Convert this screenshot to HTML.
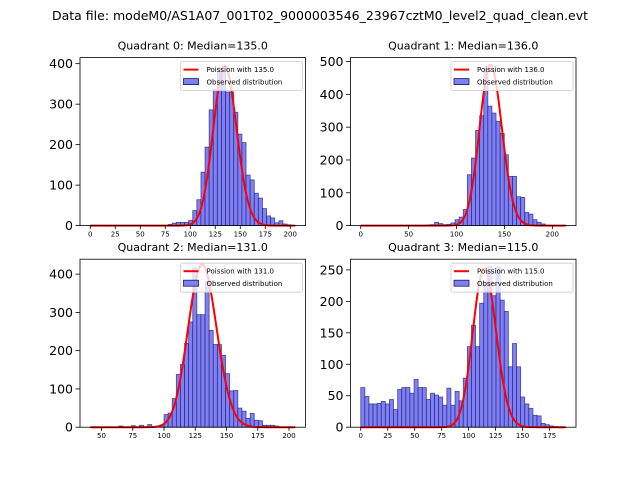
<!DOCTYPE html>
<html><head><meta charset="utf-8"><style>
body{margin:0;background:#fff;}
svg{display:block;font-family:"DejaVu Sans","Liberation Sans",sans-serif;}
</style></head><body>
<svg id="fig" width="640" height="480" viewBox="0 0 640 480">
<rect width="640" height="480" fill="#fff"/>
<text x="320" y="20" text-anchor="middle" font-size="12.5" textLength="536" lengthAdjust="spacingAndGlyphs">Data file: modeM0/AS1A07_001T02_9000003546_23967cztM0_level2_quad_clean.evt</text>
</svg>
<script>
// Panel data (bins: start value, bin width, counts)
const titles = ["Quadrant 0: Median=135.0","Quadrant 1: Median=136.0","Quadrant 2: Median=131.0","Quadrant 3: Median=115.0"];
const lambdas = [135, 136, 131, 115];
const curvePeaks = [395, 490, 425, 252];
const dataMin = [0, 0, 41, 0];
const dataMax = [205, 214, 205, 190];
const xTicks0 = [0,25,50,75,100,125,150,175,200];
const xTicks1 = [0,50,100,150,200];
const xTicks2 = [50,75,100,125,150,175,200];
const xTicks3 = [0,25,50,75,100,125,150,175];
const yTicks0 = [0,100,200,300,400];
const yTicks1 = [0,100,200,300,400,500];
const yTicks2 = [0,100,200,300,400];
const yTicks3 = [0,50,100,150,200,250];
const yMax = [415, 512, 439, 267];
const counts0 = [0,0,0,0,0,0,0,0,0,0,0,0,0,0,0,0,0,0,0,3,6,8,8,8,13,37,64,132,194,286,336,390,380,330,330,280,226,205,125,113,80,68,42,24,19,7,12,4,2,0];
const counts1 = [0,0,0,0,0,0,0,0,0,0,0,0,0,0,0,0,2,3,10,6,3,4,8,18,26,49,155,206,290,335,480,364,343,318,281,216,150,150,88,86,40,35,18,10,5,1,0,0,0,0];
const counts2 = [0,0,0,0,0,0,0,3,0,0,4,0,5,0,7,0,0,5,33,37,75,138,164,219,275,416,294,294,380,253,216,216,188,140,95,96,50,42,23,36,18,17,5,5,5,3,0,0,0,0];
const counts3 = [63,49,37,37,38,41,37,44,28,60,63,63,54,76,63,63,44,54,51,48,35,62,35,57,42,78,128,162,128,197,231,255,209,255,202,184,96,133,96,48,37,30,19,18,6,4,2,1,0,0];

const allX = [xTicks0,xTicks1,xTicks2,xTicks3];
const allY = [yTicks0,yTicks1,yTicks2,yTicks3];
const allC = [counts0,counts1,counts2,counts3];
const NS = "http://www.w3.org/2000/svg";
const svg = document.getElementById('fig');
function mk(tag, attrs, parent){const e=document.createElementNS(NS,tag);for(const k in attrs)e.setAttribute(k,attrs[k]);(parent||svg).appendChild(e);return e;}
function lnFact(n){let s=0;for(let i=2;i<=n;i++)s+=Math.log(i);return s;}
function pmfLog(k,l){return k*Math.log(l)-l-lnFact(k);}

const boxes = [[80,57.6],[350.5,57.6],[80,259.2],[350.5,259.2]];
const W = 225.5, H = 168;
for(let p=0;p<4;p++){
  const [L,T] = boxes[p];
  const lo = dataMin[p], hi = dataMax[p], pad=(hi-lo)*0.05;
  const xmin = lo-pad, xmax = hi+pad;
  const X = v => L + (v-xmin)/(xmax-xmin)*W;
  const Y = v => T + H - v/yMax[p]*H;
  const g = mk('g',{});
  
  
  const counts = allC[p];
  const bw = (hi-lo)/counts.length;
  counts.forEach((c,i)=>{
    if(c<=0) return;
    const x0 = X(lo+i*bw), x1 = X(lo+(i+1)*bw);
    const r = mk('rect',{x:x0,y:Y(c),width:x1-x0,height:Y(0)-Y(c),fill:'#7f7ff9',stroke:'#1a1a55','stroke-width':0.8,'stroke-opacity':0.7},g);
    
    
  });
  const lam = lambdas[p], mode = Math.floor(lam), pk = pmfLog(mode,lam);
  let d='';
  for(let k=lo;k<=hi;k++){
    const v = curvePeaks[p]*Math.exp(pmfLog(k,lam)-pk);
    d += (k===lo?'M':'L')+X(k).toFixed(2)+','+Y(v).toFixed(2);
  }
  const cp = mk('path',{d:d,fill:'none',stroke:'#ff0000','stroke-width':2},g);
  
  
  const fr = mk('rect',{x:L,y:T,width:W,height:H,fill:'none',stroke:'#000','stroke-width':0.8},g);
  
  
  allX[p].forEach(t=>{
    const x = X(t);
    mk('line',{x1:x,x2:x,y1:T+H,y2:T+H+3.5,stroke:'#000','stroke-width':0.8},g);
    const tx = mk('text',{x:x,y:T+H+11,'text-anchor':'middle','font-size':7},g);
    tx.textContent = t;
    
    
  });
  allY[p].forEach(t=>{
    const y = Y(t);
    mk('line',{x1:L,x2:L-4.5,y1:y,y2:y,stroke:'#000','stroke-width':0.8},g);
    const ty = mk('text',{x:L-7,y:y+4.5,'text-anchor':'end','font-size':12.5},g);
    ty.textContent = t;
    
    
  });
  const tt = mk('text',{x:L+W/2,y:T-8,'text-anchor':'middle','font-size':11},g);
  tt.textContent = titles[p];
  
  
  const lg = mk('g',{},g);
  
  
  const lx = L+W-125, ly = T+4;
  mk('rect',{x:lx,y:ly,width:122,height:29,rx:2,fill:'#fff','fill-opacity':0.8,stroke:'#ccc','stroke-width':0.8},lg);
  mk('line',{x1:lx+3,x2:lx+18,y1:ly+8,y2:ly+8,stroke:'#ff0000','stroke-width':2},lg);
  const t1 = mk('text',{x:lx+26,y:ly+10.5,'font-size':7},lg);
  t1.textContent = 'Poission with '+lam.toFixed(1);
  
  
  mk('rect',{x:lx+3,y:ly+17,width:15,height:6,fill:'#7f7ff9',stroke:'#1a1a55','stroke-width':0.8},lg);
  const t2 = mk('text',{x:lx+26,y:ly+23,'font-size':7},lg);
  t2.textContent = 'Observed distribution';
  
  
}
</script>
</body></html>
